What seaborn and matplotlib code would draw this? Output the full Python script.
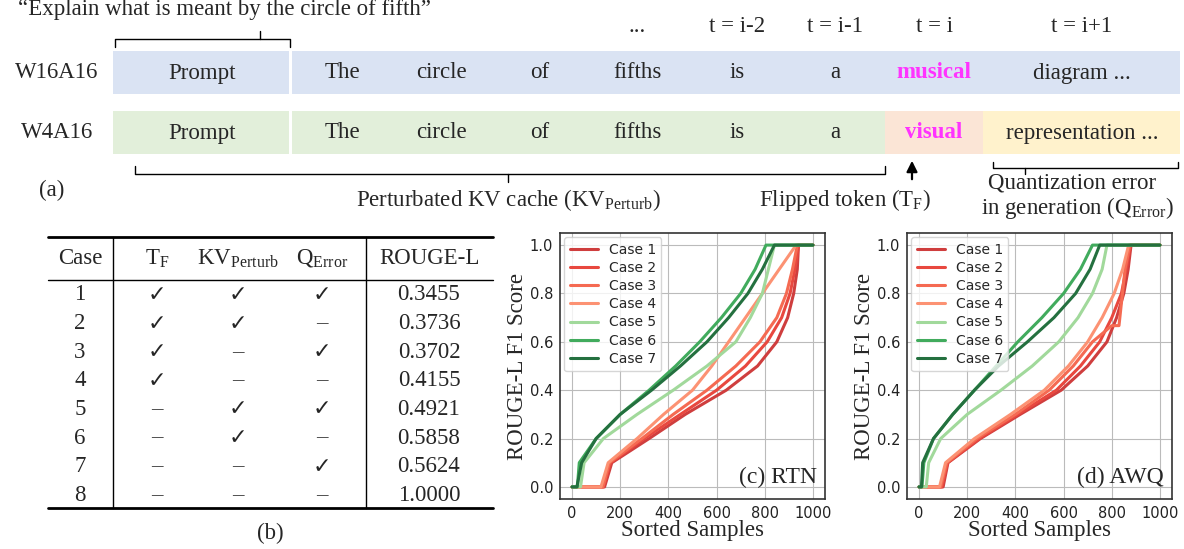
import numpy as np
import pandas as pd
import seaborn as sns
import matplotlib.pyplot as plt
from matplotlib.patches import Rectangle, FancyArrowPatch

# ---- curve data: (sample index, score) knots ----
rtn_x = {
    "Case 1": [0, 135, 165, 320, 470, 640, 770, 850, 895, 920, 935, 940, 1000],
    "Case 2": [0, 130, 160, 300, 450, 600, 720, 810, 870, 905, 925, 940, 1000],
    "Case 3": [0, 128, 155, 290, 420, 560, 680, 780, 850, 890, 915, 935, 1000],
    "Case 4": [0, 120, 150, 270, 380, 500, 580, 650, 720, 790, 860, 930, 1000],
    "Case 5": [0, 35, 50, 130, 270, 420, 560, 680, 740, 790, 815, 840, 1000],
    "Case 6": [0, 22, 30, 100, 200, 320, 430, 530, 620, 700, 760, 805, 1000],
    "Case 7": [0, 20, 40, 100, 200, 330, 450, 560, 650, 730, 790, 840, 1000],
}
awq_x = {
    "Case 1": [0, 100, 120, 255, 420, 590, 700, 780, 820, 850, 868, 880, 1000],
    "Case 2": [0, 95, 118, 250, 410, 570, 670, 750, 800, 840, 860, 878, 1000],
    "Case 3": [0, 90, 115, 240, 400, 540, 640, 720, 800, 830, 855, 875, 1000],
    "Case 4": [0, 85, 110, 230, 380, 520, 620, 700, 760, 810, 845, 870, 1000],
    "Case 5": [0, 30, 40, 90, 200, 340, 470, 580, 660, 720, 760, 780, 1000],
    "Case 6": [0, 12, 20, 60, 140, 230, 320, 410, 510, 600, 670, 720, 1000],
    "Case 7": [0, 10, 15, 60, 140, 230, 330, 450, 560, 650, 710, 750, 1000],
}
score_knots = [0.0, 0.0, 0.1, 0.2, 0.3, 0.4, 0.5, 0.6, 0.7, 0.8, 0.9, 1.0, 1.0]
awq_case3_y = [0.0, 0.0, 0.1, 0.2, 0.3, 0.4, 0.5, 0.6, 0.667, 0.667, 0.9, 1.0, 1.0]

cases = ["Case 1", "Case 2", "Case 3", "Case 4", "Case 5", "Case 6", "Case 7"]
colors = ["#cf3e3e", "#e8483f", "#f56a52", "#fc9273", "#a1d99b", "#41ab5d", "#24703f"]

# ---- table data ----
table_cases = ["1", "2", "3", "4", "5", "6", "7", "8"]
col_tf = [1, 1, 1, 1, 0, 0, 0, 0]
col_kv = [1, 1, 0, 0, 1, 1, 0, 0]
col_q = [1, 0, 1, 0, 1, 0, 1, 0]
rouge = ["0.3455", "0.3736", "0.3702", "0.4155", "0.4921", "0.5858", "0.5624", "1.0000"]

tokens = ["The", "circle", "of", "fifths", "is", "a"]

W, H = 1184, 549
sns.set_theme(style="whitegrid")
plt.rcParams['mathtext.fontset'] = 'custom'
plt.rcParams['mathtext.rm'] = 'Liberation Serif'
SERIF = ['Liberation Serif', 'DejaVu Serif']
fig = plt.figure(figsize=(W / 100, H / 100), dpi=100)


def fx(px):
    return px / W


def fy(py):
    return 1 - py / H


def txt(px, py, s, size=16.5, **kw):
    kw.setdefault('ha', 'center')
    kw.setdefault('va', 'center')
    fig.text(fx(px), fy(py), s, fontsize=size, family=kw.pop('family', SERIF), **kw)


def rect(x0, y0, x1, y1, c):
    fig.patches.append(Rectangle((fx(x0), fy(y1)), fx(x1 - x0), (y1 - y0) / H,
                                 transform=fig.transFigure, color=c, lw=0))


def line(xs, ys, lw=1.0):
    fig.add_artist(plt.Line2D([fx(v) for v in xs], [fy(v) for v in ys], color='black', lw=lw,
                              transform=fig.transFigure))


def bracket(x0, x1, y, tip, up=True, h=8):
    d = -h if up else h
    line([x0, x0, x1, x1], [y - d, y, y, y - d])
    line([tip, tip], [y, y + d])


# ---- panel (a) ----
rect(113, 51, 289, 94, "#dae3f3")
rect(292, 51, 1180, 94, "#dae3f3")
rect(113, 111, 289, 154, "#e2efda")
rect(292, 111, 885, 154, "#e2efda")
rect(885, 111, 983, 154, "#fbe5d6")
rect(983, 111, 1180, 154, "#fff2cc")
txt(57, 73, "W16A16")
txt(57, 133, "W4A16")
txt(202, 73, "Prompt")
txt(202, 133, "Prompt")
tx = [342, 441, 540, 638, 737, 835]
for x, t in zip(tx, tokens):
    txt(x, 73, t)
    txt(x, 133, t)
txt(934, 73, "musical", color="#ff33ff", weight='bold')
txt(934, 133, "visual", color="#ff33ff", weight='bold')
txt(1082, 73, "diagram ...")
txt(1082, 133, "representation ...")
for x, s in zip([637, 737, 835, 934, 1082], ["...", "t = i-2", "t = i-1", "t = i", "t = i+1"]):
    txt(x, 27, s)
txt(18, -1, "\u201cExplain what is meant by the circle of fifth\u201d", ha='left', va='top')
bracket(115, 290, 39, 260, up=True)
bracket(135, 885, 174, 508, up=False)
bracket(993, 1178, 168, 1025, up=False, h=6)
fig.add_artist(FancyArrowPatch((fx(912), fy(182)), (fx(912), fy(158)), transform=fig.transFigure,
                               arrowstyle='-|>', mutation_scale=16, color='black', lw=1.6))
txt(52, 190, "(a)")
txt(508, 200, r"Perturbated KV cache (KV$_{\rm Perturb}$)")
txt(845, 200, r"Flipped token (T$_{\rm F}$)")
txt(1072, 183, "Quantization error")
txt(1078, 208, r"in generation (Q$_{\rm Error}$)")

# ---- panel (b) table ----
line([48, 493], [237, 237], lw=2)
line([48, 493], [280, 280], lw=1)
line([48, 493], [508, 508], lw=2)
line([113, 113], [237, 508])
line([366, 366], [237, 508])
hy = 259
txt(80, hy, "Case")
txt(157, hy, r"T$_{\rm F}$")
txt(238, hy, r"KV$_{\rm Perturb}$")
txt(322, hy, r"Q$_{\rm Error}$")
txt(429, hy, "ROUGE-L")
for i in range(len(table_cases)):
    y = 295 + i * 28.6
    txt(80, y, table_cases[i])
    for x, col in zip([157, 238, 322], [col_tf, col_kv, col_q]):
        if col[i]:
            txt(x, y, "\u2713", family=['DejaVu Sans'], size=16)
        else:
            txt(x, y, "\u2013", color='#444444')
    txt(429, y, rouge[i])
txt(270, 533, "(b)")

# ---- panels (c), (d) ----
def curve_panel(left, xs_dict, label, case3_y=None):
    ax = fig.add_axes([fx(left), fy(499), fx(265), 266 / H])
    rows = []
    for c in cases:
        ys = case3_y if (case3_y is not None and c == "Case 3") else score_knots
        for x, y in zip(xs_dict[c], ys):
            rows.append((c, x, y))
    df = pd.DataFrame(rows, columns=["case", "x", "y"])
    sns.lineplot(data=df, x="x", y="y", hue="case", palette=colors, estimator=None,
                 sort=False, lw=2.2, ax=ax)
    ax.set_xlim(-50, 1050)
    ax.set_ylim(-0.05, 1.05)
    ax.set_xticks([0, 200, 400, 600, 800, 1000])
    ax.set_yticks([0.0, 0.2, 0.4, 0.6, 0.8, 1.0])
    ax.tick_params(labelsize=10.5, pad=2, length=3, color='#333333', labelcolor='#222222')
    ax.set_xlabel("Sorted Samples", fontsize=16.5, family=SERIF, labelpad=-1)
    ax.set_ylabel("ROUGE-L F1 Score", fontsize=16.5, family=SERIF, labelpad=1)
    for s in ax.spines.values():
        s.set_color('#333333')
        s.set_linewidth(1.2)
    ax.grid(color='#bbbbbb', lw=0.8)
    ax.legend(title=None, loc='upper left', fontsize=10, handlelength=2.0, labelspacing=0.3,
              borderaxespad=0.3, framealpha=0.8)
    ax.text(0.97, 0.04, label, transform=ax.transAxes, ha='right', va='bottom',
            fontsize=17, family=SERIF)
    return ax


curve_panel(560, rtn_x, "(c) RTN")
curve_panel(907, awq_x, "(d) AWQ", case3_y=awq_case3_y)

fig.savefig("out.png", dpi=100)
